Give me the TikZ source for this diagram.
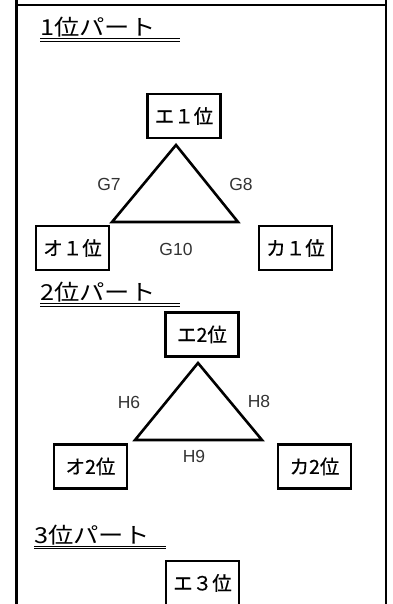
\documentclass[tikz,border=0pt]{standalone}
\usepackage{fontspec}
\setmainfont{Noto Sans CJK JP}
\newfontfamily\latfont{Liberation Sans}
\newfontfamily\boxfont[FakeBold=0.5]{Noto Sans CJK JP}
\begin{document}
\begin{tikzpicture}[x=1pt,y=-1pt,
  box/.style={draw, line width=2.1pt, minimum width=73pt, minimum height=44pt, inner sep=0pt, font=\boxfont\fontsize{19.5}{19.5}\selectfont},
  edgelbl/.style={font=\latfont\fontsize{17.5}{17.5}\selectfont, text=black!80, inner sep=0pt},
  head/.style={font=\fontsize{22}{22}\selectfont, inner sep=0pt, anchor=west, xscale=1.15},
  ul/.style={line width=1pt},
  frameline/.style={line width=2.6pt},
  tri/.style={line width=2.6pt, line join=miter}]
\useasboundingbox (0,0) rectangle (392,604);
% frame
\draw[frameline] (16.5,0) -- (16.5,604);
\draw[frameline] (386,0) -- (386,604);
\draw[frameline] (16.5,5) -- (386,5);

% section 1
\node[head] (h1) at (40,27) {1位パート};
\coordinate (u1a) at (40,39);
\coordinate (u1b) at (180,39);
\draw[ul] (u1a) -- (u1b);
\draw[ul] ([yshift=-2.5pt]u1a) -- ([yshift=-2.5pt]u1b);

\node[box] (e1) at (184,116) {エ１位};
\node[box] (o1) at (72.5,248) {オ１位};
\node[box] (k1) at (295.5,248) {カ１位};
\coordinate (t1a) at (176,145);
\coordinate (t1b) at (112,222);
\coordinate (t1c) at (238,222);
\draw[tri] (t1a) -- (t1b) -- (t1c) -- cycle;
\node[edgelbl] (g7) at (109,184.5) {G7};
\node[edgelbl] (g8) at (241,184.5) {G8};
\node[edgelbl] (g10) at (176,249) {G10};

% section 2
\node[head] (h2) at (40,292) {2位パート};
\coordinate (u2a) at (40,303.5);
\coordinate (u2b) at (180,303.5);
\draw[ul] (u2a) -- (u2b);
\draw[ul] ([yshift=-2.5pt]u2a) -- ([yshift=-2.5pt]u2b);

\node[box] (e2) at (202,334.5) {エ2位};
\node[box] (o2) at (90.5,466.5) {オ2位};
\node[box] (k2) at (314.5,466.5) {カ2位};
\coordinate (t2a) at (198,363);
\coordinate (t2b) at (135,440);
\coordinate (t2c) at (262,440);
\draw[tri] (t2a) -- (t2b) -- (t2c) -- cycle;
\node[edgelbl] (h6) at (129,402) {H6};
\node[edgelbl] (h8) at (259,401) {H8};
\node[edgelbl] (h9) at (194,456) {H9};

% section 3
\node[head] (h3) at (34,535) {3位パート};
\coordinate (u3a) at (34,546);
\coordinate (u3b) at (166,546);
\draw[ul] (u3a) -- (u3b);
\draw[ul] ([yshift=-2.5pt]u3a) -- ([yshift=-2.5pt]u3b);

\node[box] (e3) at (202.5,583) {エ３位};
\end{tikzpicture}
\end{document}
